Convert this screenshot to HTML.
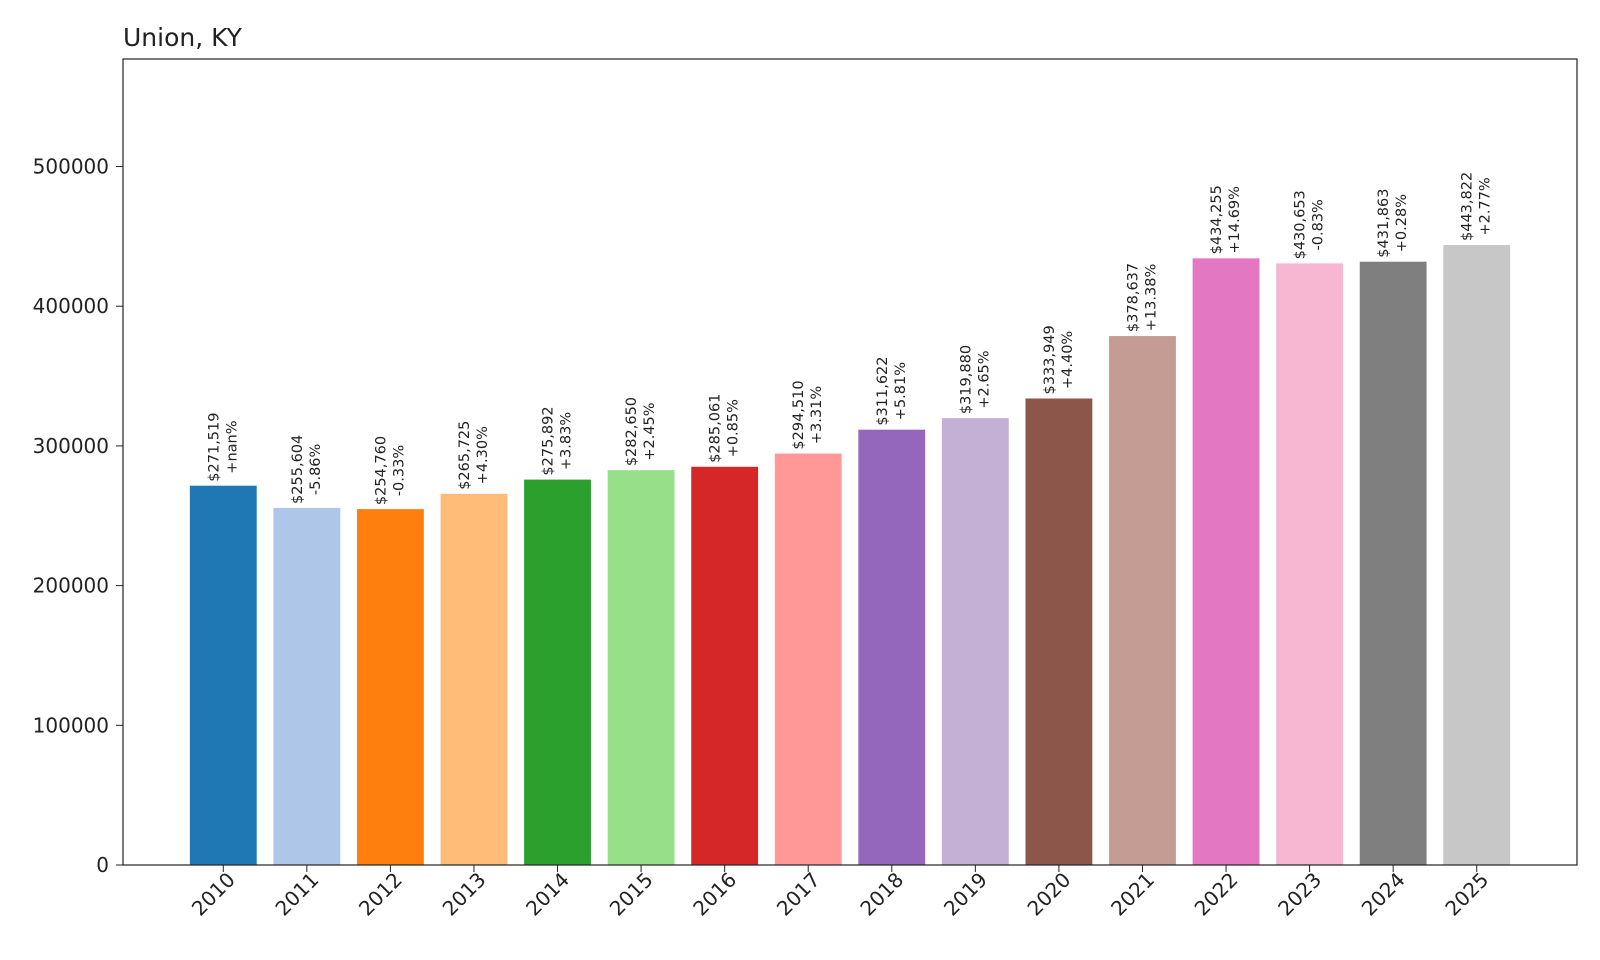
<!DOCTYPE html>
<html><head><meta charset="utf-8"><style>
html,body{margin:0;padding:0;background:#fff;}
svg{display:block;font-family:"DejaVu Sans","Liberation Sans",sans-serif;}
</style></head><body>
<svg id="chart" width="1600" height="960" viewBox="0 0 1600 960" xmlns="http://www.w3.org/2000/svg">
<rect x="0" y="0" width="1600" height="960" fill="#fff"/>
<text x="123" y="46" font-size="25" fill="#222">Union, KY</text>
<g id="bars"></g>
<g id="yaxis"></g>
<g id="xaxis"></g>
<g id="labels"></g>
<rect x="123" y="59" width="1454" height="806" fill="none" stroke="#222" stroke-width="1.2"/>
</svg>
<script>
const years = ["2010","2011","2012","2013","2014","2015","2016","2017","2018","2019","2020","2021","2022","2023","2024","2025"];
const values = [271519,255604,254760,265725,275892,282650,285061,294510,311622,319880,333949,378637,434255,430653,431863,443822];
const changes = ["+nan%","-5.86%","-0.33%","+4.30%","+3.83%","+2.45%","+0.85%","+3.31%","+5.81%","+2.65%","+4.40%","+13.38%","+14.69%","-0.83%","+0.28%","+2.77%"];
const yTicks = [0,100000,200000,300000,400000,500000];
const colors = ["#1f77b4","#aec7e8","#ff7f0e","#ffbb78","#2ca02c","#98df8a","#d62728","#ff9896","#9467bd","#c5b0d5","#8c564b","#c49c94","#e377c2","#f7b6d2","#7f7f7f","#c7c7c7"];
const NS="http://www.w3.org/2000/svg";
const L=123,R=1577,T=59,B=865;
const yMax=Math.max(...values)*1.3;
const xMin=-1.2,xMax=years.length-1+1.2;
const xs=i=>L+(i-xMin)/(xMax-xMin)*(R-L);
const ys=v=>B-v/yMax*(B-T);
const step=(R-L)/(xMax-xMin), bw=step*0.8;
function mk(tag,attrs,parent){const e=document.createElementNS(NS,tag);for(const k in attrs)e.setAttribute(k,attrs[k]);parent.appendChild(e);return e;}
const gb=document.getElementById('bars'),gy=document.getElementById('yaxis'),gx=document.getElementById('xaxis'),gl=document.getElementById('labels');
yTicks.forEach(t=>{
  const y=ys(t);
  const ln=mk('line',{x1:L-7,x2:L,y1:y,y2:y,stroke:'#222','stroke-width':1},gy);
  
  
  const tx=mk('text',{x:L-14,y:y+7,'text-anchor':'end','font-size':20,fill:'#222'},gy);
  tx.textContent=String(t);
  
  
});
years.forEach((yr,i)=>{
  const cx=xs(i),top=ys(values[i]);
  const r=mk('rect',{x:cx-bw/2,y:top,width:bw,height:B-top,fill:colors[i]},gb);
  
  
  const tk=mk('line',{x1:cx,x2:cx,y1:B,y2:B+7,stroke:'#222','stroke-width':1},gx);
  
  
  const lx=cx-5,ly=B+34;
  const t=mk('text',{x:lx,y:ly,'text-anchor':'middle','font-size':20,fill:'#222',transform:`rotate(-45 ${lx} ${ly})`},gx);
  t.textContent=yr;
  
  
  const l1=mk('text',{'font-size':14.5,fill:'#222','text-anchor':'start'},gl);
  l1.textContent='$'+values[i].toLocaleString('en-US');
  
  
  const x1=cx-5,y1=top-4;
  l1.setAttribute('x',x1);l1.setAttribute('y',y1);
  l1.setAttribute('transform',`rotate(-90 ${x1} ${y1})`);
  const len=l1.getComputedTextLength()||70;
  const l2=mk('text',{'font-size':14.5,fill:'#222','text-anchor':'middle'},gl);
  l2.textContent=changes[i];
  
  
  const x2=cx+13,y2=top-4-len/2;
  l2.setAttribute('x',x2);l2.setAttribute('y',y2);
  l2.setAttribute('transform',`rotate(-90 ${x2} ${y2})`);
});
</script>
</body></html>
